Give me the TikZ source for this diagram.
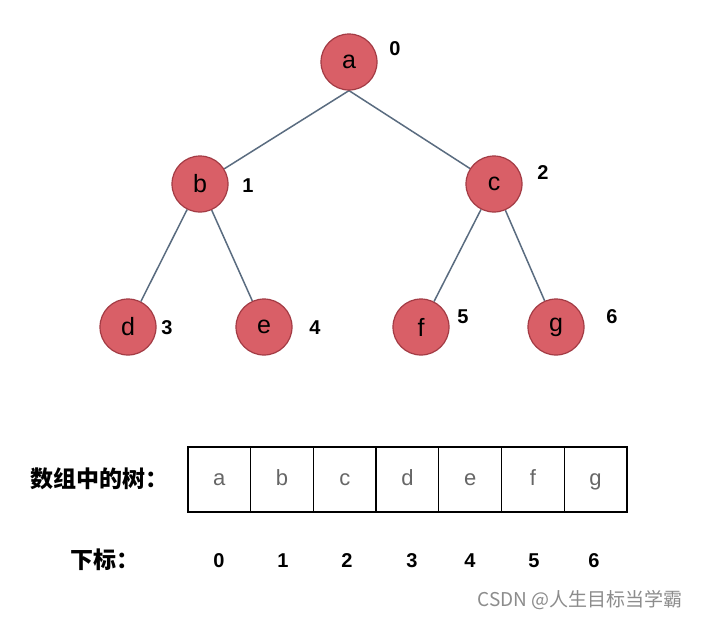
\documentclass[tikz,border=0pt]{standalone}
\usepackage{fontspec}
\setmainfont{Liberation Sans}
\newfontfamily\cjk{Noto Sans CJK SC}
\begin{document}
\begin{tikzpicture}[x=1pt,y=-1pt,
  tnode/.style={circle,draw=treeborder,line width=1.2pt,fill=treefill,minimum size=56pt,inner sep=0pt,font=\fontsize{25}{27}\selectfont},
  idx/.style={font=\fontsize{20}{22}\selectfont\bfseries},
  edge/.style={draw=edgecol,line width=1.5pt},
  cell/.style={draw=black,line width=1.3pt,minimum width=62.7pt,minimum height=65pt,inner sep=0pt,text=cellgray,font=\fontsize{22}{24}\selectfont,text height=12pt,text depth=0pt},
  lab/.style={font=\cjk\bfseries\fontsize{23}{25}\selectfont,anchor=west}]
\definecolor{treefill}{HTML}{D95F67}
\definecolor{treeborder}{HTML}{A33B44}
\definecolor{edgecol}{HTML}{5A6C80}
\definecolor{cellgray}{HTML}{666666}
\useasboundingbox (0,0) rectangle (703,619);
\fill[white] (0,0) rectangle (703,619);
% tree nodes (positions)
\coordinate (pa) at (349,62);
\coordinate (pb) at (200,184);
\coordinate (pc) at (494,184);
\coordinate (pd) at (128,327);
\coordinate (pe) at (264,327);
\coordinate (pf) at (421,327);
\coordinate (pg) at (556,327);
\node[tnode,draw=none,fill=none] (a) at (pa) {};
\node[tnode,draw=none,fill=none] (b) at (pb) {};
\node[tnode,draw=none,fill=none] (c) at (pc) {};
\node[tnode,draw=none,fill=none] (d) at (pd) {};
\node[tnode,draw=none,fill=none] (e) at (pe) {};
\node[tnode,draw=none,fill=none] (f) at (pf) {};
\node[tnode,draw=none,fill=none] (g) at (pg) {};
% edges
\path[edge] (a.south) -- (b);
\path[edge] (a.south) -- (c);
\path[edge] (b) -- (d);
\path[edge] (b) -- (e);
\path[edge] (c) -- (f);
\path[edge] (c) -- (g);
% visible nodes over edges
\node[tnode] (na) at (pa) {a};
\node[tnode] (nb) at (pb) {b};
\node[tnode] (nc) at (pc) {c};
\node[tnode] (nd) at (pd) {d};
\node[tnode] (ne) at (pe) {e};
\node[tnode] (nf) at (pf) {f};
\node[tnode] (ng) at (pg) {g};
% index labels
\node[idx] (l0) at (395,49) {0};
\node[idx] (l1) at (248,186) {1};
\node[idx] (l2) at (543,173) {2};
\node[idx] (l3) at (167,328) {3};
\node[idx] (l4) at (315,328) {4};
\node[idx] (l5) at (463,317) {5};
\node[idx] (l6) at (612,317) {6};
% array
\node[cell] (c0) at (219.35,479.5) {a};
\node[cell] (c1) at (282.05,479.5) {b};
\node[cell] (c2) at (344.75,479.5) {c};
\node[cell] (c3) at (407.45,479.5) {d};
\node[cell] (c4) at (470.15,479.5) {e};
\node[cell] (c5) at (532.85,479.5) {f};
\node[cell] (c6) at (595.55,479.5) {g};
\node[lab] (arr) at (27,479) {数组中的树：};
\node[lab] (sub) at (67,560) {下标：};
\node[idx] (i0) at (219,561) {0};
\node[idx] (i1) at (283,561) {1};
\node[idx] (i2) at (347,561) {2};
\node[idx] (i3) at (412,561) {3};
\node[idx] (i4) at (470,561) {4};
\node[idx] (i5) at (534,561) {5};
\node[idx] (i6) at (594,561) {6};
\node[font=\cjk\fontsize{19}{21}\selectfont,text=black!45,anchor=west] (wm) at (474,600) {CSDN @人生目标当学霸};
\end{tikzpicture}
\end{document}
